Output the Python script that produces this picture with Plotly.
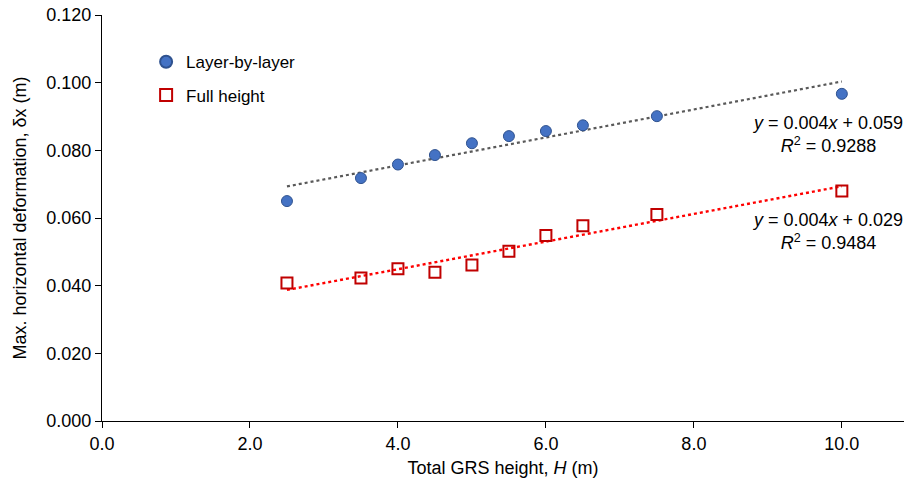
import numpy as np
import plotly.graph_objects as go

heights = [2.5, 3.5, 4.0, 4.5, 5.0, 5.5, 6.0, 6.5, 7.5, 10.0]
layer_by_layer = [0.0650, 0.0718, 0.0758, 0.0786, 0.0821, 0.0842, 0.0857, 0.0874, 0.0901, 0.0967]
full_height = [0.0408, 0.0423, 0.0450, 0.0440, 0.0461, 0.0502, 0.0548, 0.0577, 0.0610, 0.0680]

x_ticks = [0, 2, 4, 6, 8, 10]
y_ticks = [0, 0.02, 0.04, 0.06, 0.08, 0.10, 0.12]

FONT = "Liberation Sans, Arial, sans-serif"

def fit(xs, ys):
    k, b = np.polyfit(xs, ys, 1)
    xe = [min(xs), max(xs)]
    return xe, [k * v + b for v in xe]

fig = go.Figure()

tx, ty = fit(heights, layer_by_layer)
fig.add_trace(go.Scatter(x=tx, y=ty, mode="lines", showlegend=False,
                         line=dict(color="#595959", width=2.2, dash="dot"), hoverinfo="skip"))
tx2, ty2 = fit(heights, full_height)
fig.add_trace(go.Scatter(x=tx2, y=ty2, mode="lines", showlegend=False,
                         line=dict(color="#FF0000", width=2.4, dash="dot"), hoverinfo="skip"))

fig.add_trace(go.Scatter(x=heights, y=layer_by_layer, mode="markers", name="Layer-by-layer",
                         legendgroup="a",
                         marker=dict(symbol="circle", size=11, color="#4472C4",
                                     line=dict(color="#2F528F", width=1))))
fig.add_trace(go.Scatter(x=heights, y=full_height, mode="markers", name="Full height",
                         legendgroup="b",
                         marker=dict(symbol="square-open", size=11, color="#C00000",
                                     line=dict(color="#C00000", width=2))))

fig.add_annotation(x=9.8, y=0.0846, xref="x", yref="y", showarrow=False, align="center",
                   text="<i>y</i> = 0.004<i>x</i> + 0.059<br><i>R</i><sup>2</sup> = 0.9288",
                   font=dict(family=FONT, size=18, color="black"))
fig.add_annotation(x=9.8, y=0.0560, xref="x", yref="y", showarrow=False, align="center",
                   text="<i>y</i> = 0.004<i>x</i> + 0.029<br><i>R</i><sup>2</sup> = 0.9484",
                   font=dict(family=FONT, size=18, color="black"))

fig.update_layout(
    width=904, height=488,
    margin=dict(l=102, r=0, t=15, b=67),
    plot_bgcolor="white", paper_bgcolor="white",
    font=dict(family=FONT, size=18, color="black"),
    legend=dict(x=0.055, y=0.928, xanchor="left", yanchor="top", bgcolor="rgba(0,0,0,0)",
                font=dict(size=17), tracegroupgap=8, itemsizing="constant", itemwidth=30),
    xaxis=dict(range=[0, 10.84], tickvals=x_ticks, ticktext=[f"{v:.1f}" for v in x_ticks],
               showgrid=False, zeroline=False, showline=True, linecolor="black", linewidth=1.3,
               ticks="outside", ticklen=6, tickcolor="black", tickfont=dict(size=18),
               title=dict(text="Total GRS height, <i>H</i> (m)", standoff=8, font=dict(size=18))),
    yaxis=dict(range=[0, 0.12], tickvals=y_ticks, ticktext=[f"{v:.3f}" for v in y_ticks],
               showgrid=False, zeroline=False, showline=True, linecolor="black", linewidth=1.3,
               ticks="outside", ticklen=6, tickcolor="black", tickfont=dict(size=18),
               title=dict(text="Max. horizontal deformation, δx (m)", standoff=14, font=dict(size=18))),
)

fig.write_html("out.html")
